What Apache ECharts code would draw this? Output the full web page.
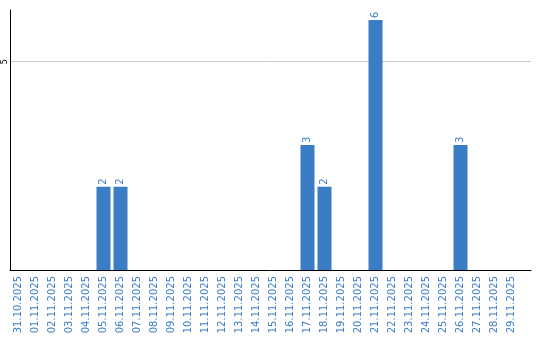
<!DOCTYPE html>
<html><head><meta charset="utf-8">
<script src="https://cdn.jsdelivr.net/npm/echarts@6/dist/echarts.min.js"></script>
<style>html,body{margin:0;padding:0;background:#fff}#c{width:540px;height:340px}</style>
</head><body><div id="c"></div>
<script>
const categories = ['31.10.2025','01.11.2025','02.11.2025','03.11.2025','04.11.2025','05.11.2025','06.11.2025','07.11.2025','08.11.2025','09.11.2025','10.11.2025','11.11.2025','12.11.2025','13.11.2025','14.11.2025','15.11.2025','16.11.2025','17.11.2025','18.11.2025','19.11.2025','20.11.2025','21.11.2025','22.11.2025','23.11.2025','24.11.2025','25.11.2025','26.11.2025','27.11.2025','28.11.2025','29.11.2025'];
const values = [0,0,0,0,0,2,2,0,0,0,0,0,0,0,0,0,0,3,2,0,0,6,0,0,0,0,3,0,0,0];
const yMax = 6.24;
const yTickStep = 5;

const chart = echarts.init(document.getElementById('c'), null, {renderer:'canvas'});
const blue = '#3b7dc4';
chart.setOption({
  animation:false,
  grid:[
    {left:10, right:20, top:10, bottom:70},
    {left:10, right:9, top:10, bottom:70}
  ],
  xAxis:[
    {type:'category', gridIndex:0, data:categories,
     axisLine:{show:false}, axisTick:{show:false},
     axisLabel:{rotate:90, interval:0, color:blue, fontFamily:'DejaVu Sans', fontSize:10, margin:6}},
    {type:'value', gridIndex:1, min:0, max:1, show:true,
     axisLine:{show:true, onZero:false, lineStyle:{color:'#000', width:1}},
     axisTick:{show:false}, axisLabel:{show:false}, splitLine:{show:false}}
  ],
  yAxis:[
    {type:'value', gridIndex:0, min:0, max:yMax, show:false, splitLine:{show:false}},
    {type:'value', gridIndex:1, min:0, max:yMax, interval:yTickStep,
     axisLine:{show:true, lineStyle:{color:'#000', width:1}},
     axisTick:{show:false},
     axisLabel:{rotate:90, fontSize:8, color:'#000', fontFamily:'DejaVu Sans', margin:1,
       formatter:v => (v === 5 ? '5' : '')},
     splitLine:{show:true, showMinLine:false, showMaxLine:false, lineStyle:{color:'#c8c8c8', width:1}}}
  ],
  series:[{
    type:'bar', xAxisIndex:0, yAxisIndex:0, data:values, barWidth:14,
    itemStyle:{color:blue},
    label:{show:true, position:'top', rotate:90, align:'left', verticalAlign:'middle', distance:2,
      color:blue, fontFamily:'DejaVu Sans', fontSize:10,
      formatter:p => (p.value ? String(p.value) : '')}
  }]
});
</script></body></html>
